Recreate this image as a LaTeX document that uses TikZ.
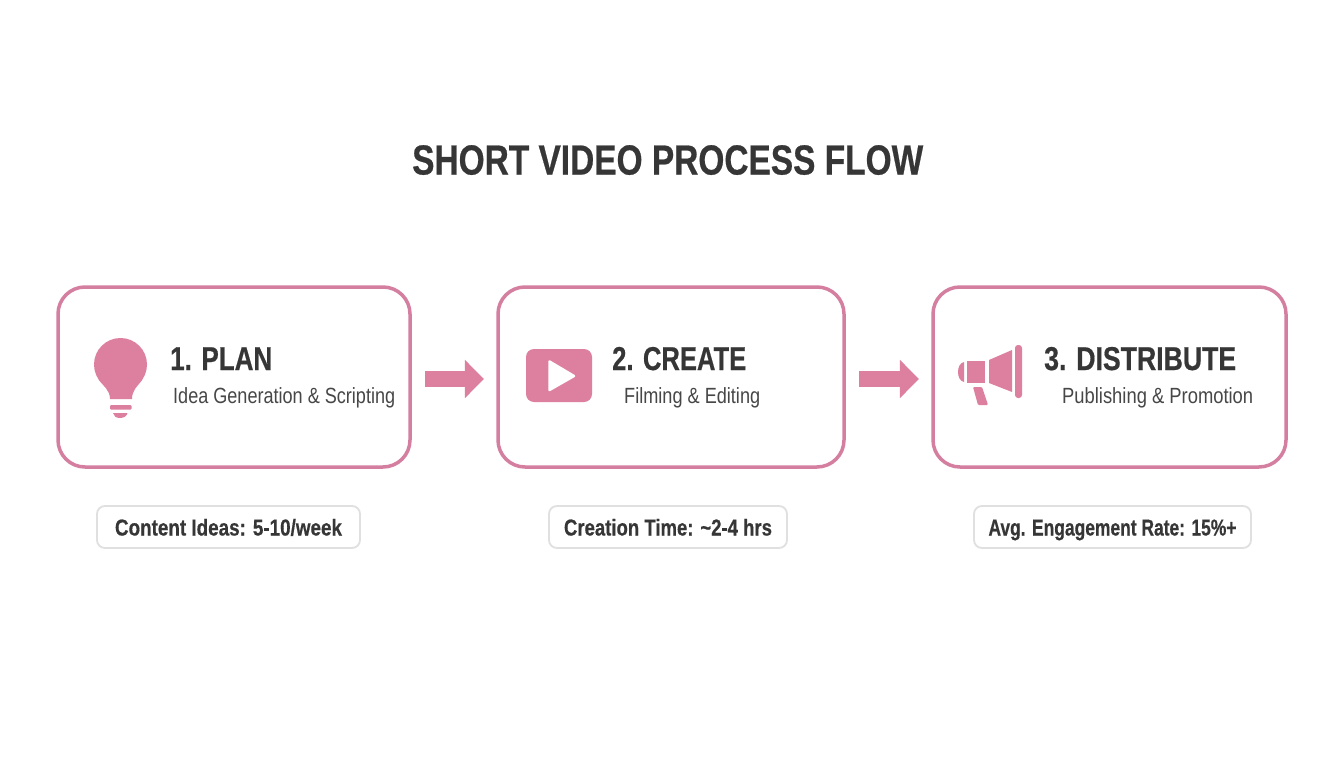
\documentclass[tikz,border=0pt]{standalone}
\usepackage{fontspec}
\usepackage{graphicx}
\setmainfont[BoldFeatures={FakeBold=0.6}]{Liberation Sans}
\usetikzlibrary{arrows.meta}
\definecolor{rosebd}{HTML}{D57FA0}
\definecolor{rosefill}{HTML}{DD7F9F}
\definecolor{inkdark}{HTML}{363636}
\definecolor{inksub}{HTML}{474747}
\definecolor{pillbd}{HTML}{E0E0E0}
\newcommand{\wtext}[2]{\resizebox{#1pt}{\height}{#2}}
\tikzset{
  card/.style={draw=rosebd,line width=3.5pt,rounded corners=27pt,fill=white,minimum height=180pt,inner sep=0pt},
  pill/.style={draw=pillbd,line width=1.8pt,rounded corners=8pt,fill=white,minimum height=42pt,inner sep=0pt,
     font=\fontsize{23}{23}\selectfont\bfseries,text=inkdark,text height=17pt,text depth=0pt},
  heading/.style={anchor=base west,inner sep=0pt,font=\fontsize{33}{33}\selectfont\bfseries,text=inkdark},
  subhead/.style={anchor=base west,inner sep=0pt,font=\fontsize{22}{22}\selectfont,text=inksub},
  flowarrow/.style={draw=rosefill,line width=16pt,shorten <=13.3pt,shorten >=12.3pt,
     -{Triangle[length=19pt,width=37pt,fill=rosefill]}},
  icon/.style={fill=rosefill,draw=none}
}
\begin{document}
\begin{tikzpicture}[x=1pt,y=-1pt]
\useasboundingbox[fill=white] (0,0) rectangle (1344,768);

\node[anchor=base west,inner sep=0pt,font=\fontsize{42}{42}\selectfont\bfseries,text=inkdark] (title) at (412,174.5) {\wtext{511}{SHORT VIDEO PROCESS FLOW}};

\node[card,minimum width=352pt] (plan) at (234,377) {};
\node[card,minimum width=346pt] (create) at (671,377) {};
\node[card,minimum width=353pt] (dist) at (1109.5,377) {};

\draw[flowarrow] ([yshift=-2pt]plan.east) -- ([yshift=-2pt]create.west);
\draw[flowarrow] ([yshift=-2pt]create.east) -- ([yshift=-2pt]dist.west);

\node[heading] (h1) at (170,370) {\wtext{102}{1. PLAN}};
\node[subhead] (s1) at (173,403) {\wtext{222}{Idea Generation \& Scripting}};
\node[heading] (h2) at (612,370) {\wtext{134}{2. CREATE}};
\node[subhead] (s2) at (624,403) {\wtext{136}{Filming \& Editing}};
\node[heading] (h3) at (1044,370) {\wtext{192}{3. DISTRIBUTE}};
\node[subhead] (s3) at (1062,403) {\wtext{191}{Publishing \& Promotion}};

\node[pill,minimum width=263pt] (m1) at (228.5,527) {\wtext{227}{Content Ideas: 5-10/week}};
\node[pill,minimum width=238pt] (m2) at (668,527) {\wtext{208}{Creation Time: \textasciitilde2-4 hrs}};
\node[pill,minimum width=277pt] (m3) at (1112.5,527) {\wtext{248}{Avg. Engagement Rate: 15\%+}};

% bulb
\fill[icon] (120.5,364.5) circle[radius=26.5pt];
\fill[icon] (98.8,379.7) .. controls (103.4,386.3) and (110,390) .. (110,399) -- (132,399) .. controls (132,390) and (137.6,386.3) .. (142.2,379.7) -- cycle;
\fill[icon,rounded corners=1pt] (110,405) rectangle (131.5,409.5);
\fill[icon] (113,413) -- (127.5,413) .. controls (127,416) and (124,418) .. (120,418) .. controls (116,418) and (113.5,416) .. (113,413) -- cycle;

% play
\fill[icon,rounded corners=8pt] (526,349) rectangle (592,402);
\filldraw[white,line width=2.5pt,line join=round] (549.5,361.5) -- (574,376) -- (549.5,390) -- cycle;

% megaphone
\fill[icon] (964,362) .. controls (960,363) and (958,367) .. (958,372) .. controls (958,377) and (960,381) .. (964,382) -- cycle;
\fill[icon] (967,361) rectangle (985,383);
\fill[icon] (989,360) -- (1012,350) -- (1012,392) -- (989,383) -- cycle;
\fill[icon,rounded corners=3pt] (1015,345) rectangle (1022,398);
\fill[icon,rounded corners=1pt] (973,387) -- (982,387) -- (988,405) -- (978,405) -- cycle;
\end{tikzpicture}
\end{document}
